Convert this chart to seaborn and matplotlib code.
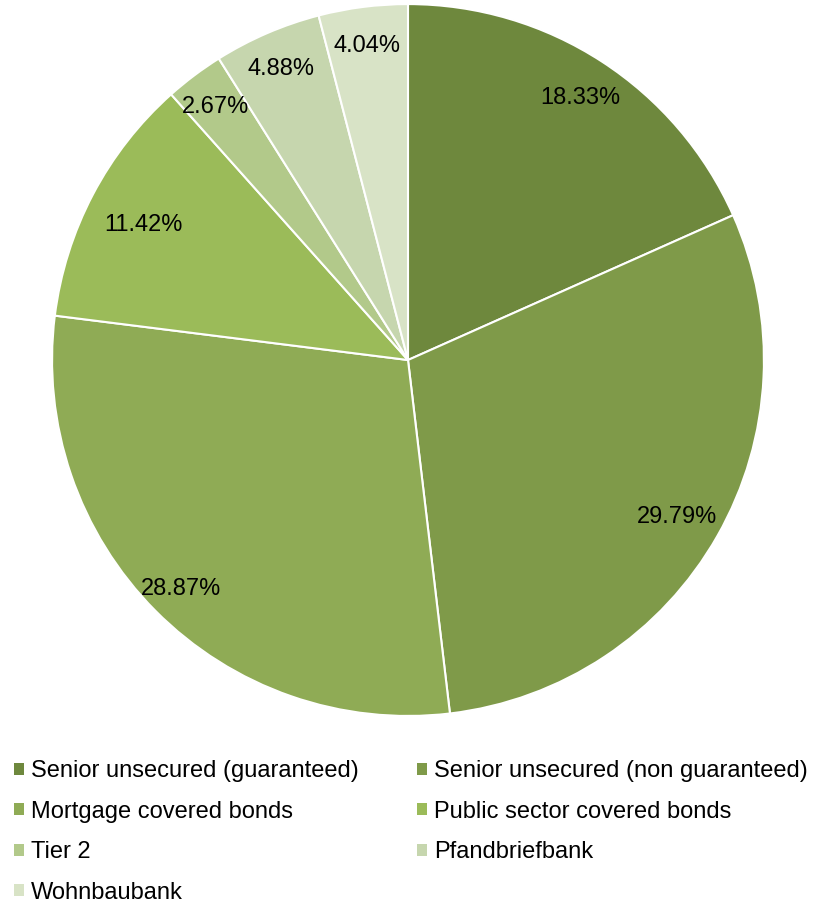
import matplotlib
matplotlib.use("Agg")
import numpy as np
import matplotlib.pyplot as plt
from matplotlib.patches import Patch
import seaborn as sns

categories = [
    "Senior unsecured (guaranteed)",
    "Senior unsecured (non guaranteed)",
    "Mortgage covered bonds",
    "Public sector covered bonds",
    "Tier 2",
    "Pfandbriefbank",
    "Wohnbaubank",
]
shares = [18.33, 29.79, 28.87, 11.42, 2.67, 4.88, 4.04]
colors = ["#6E883D", "#7F9A49", "#8FAB55", "#9BBB59", "#B2C98A", "#C6D6AE", "#D8E3C6"]
# radial placement of each percentage label (fraction of radius)
label_radius = [0.89, 0.87, 0.9, 0.84, 0.9, 0.9, 0.9]

sns.set_style("white")
plt.rcParams["font.family"] = ["Liberation Sans", "DejaVu Sans"]
plt.rcParams["text.color"] = "black"

fig = plt.figure(figsize=(8.37, 9.08), dpi=100)
ax = fig.add_axes([0.0621, 0.2115, 0.8507, 0.784])

wedges, texts, autotexts = ax.pie(
    shares,
    colors=colors,
    startangle=90,
    counterclock=False,
    autopct=lambda p: f"{p:.2f}%",
    pctdistance=0.88,
    wedgeprops=dict(edgecolor="white", linewidth=1.5),
    textprops=dict(fontsize=17, color="black"),
)
for w, t, r in zip(wedges, autotexts, label_radius):
    ang = np.deg2rad((w.theta1 + w.theta2) / 2)
    t.set_position((r * np.cos(ang), r * np.sin(ang) - 0.01))

ax.set_xlim(-1, 1)
ax.set_ylim(-1, 1)
ax.set_aspect("equal")

# Row-major ordering for a two-column legend
order = [0, 2, 4, 6, 1, 3, 5]
handles = [Patch(facecolor=colors[i], edgecolor="none") for i in order]
labels = [categories[i] for i in order]
fig.legend(
    handles, labels,
    loc="upper left", bbox_to_anchor=(0.0167, 0.1626),
    ncol=2, frameon=False, fontsize=17, borderpad=0.0, borderaxespad=0.0,
    handlelength=0.42, handleheight=0.42, handletextpad=0.3,
    columnspacing=2.48, labelspacing=0.78, labelcolor="black",
)

fig.savefig("out.png", dpi=100, facecolor="white")
